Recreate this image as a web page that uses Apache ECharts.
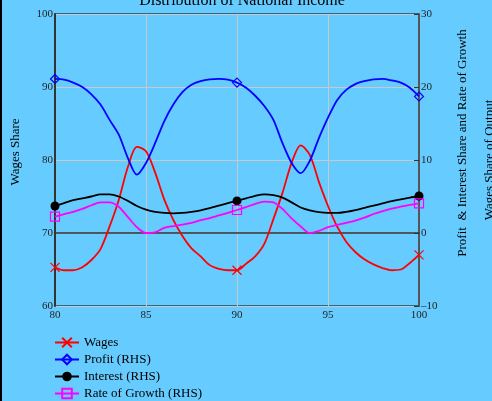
<!DOCTYPE html>
<html>
<head>
<meta charset="utf-8">
<script src="https://cdn.jsdelivr.net/npm/echarts@6/dist/echarts.min.js"></script>
<style>
  html, body { margin: 0; padding: 0; background: #000; }
  #chart { position: absolute; left: 2px; top: 0; width: 490px; height: 401px; background: #66ccff; }
</style>
</head>
<body>
<div id="chart"></div>
<script>
// x positions (half-year steps)
const years = [80, 80.5, 81, 81.5, 82, 82.5, 83, 83.5, 84, 84.5, 85, 85.5, 86, 86.5, 87, 87.5, 88, 88.5, 89, 89.5,
  90, 90.5, 91, 91.5, 92, 92.5, 93, 93.5, 94, 94.5, 95, 95.5, 96, 96.5, 97, 97.5, 98, 98.5, 99, 99.5, 100];

const wages = [65.3, 64.9, 64.9, 65.3, 66.3, 67.8, 70.9, 74.5, 79.0, 81.8, 81.2, 78.3, 74.6, 71.8, 69.6, 67.9, 66.8, 65.6, 65.1, 64.9,
  64.9, 65.8, 66.8, 68.5, 71.9, 75.5, 79.6, 82.0, 80.7, 77.0, 73.7, 70.9, 68.8, 67.4, 66.4, 65.7, 65.2, 64.9, 65.0, 65.9, 67.0];

const profit = [21.1, 21.0, 20.6, 20.0, 19.0, 17.6, 15.5, 13.5, 10.3, 8.0, 9.6, 12.3, 15.3, 17.6, 19.3, 20.3, 20.8, 21.05, 21.1, 21.0,
  20.6, 19.9, 18.8, 17.4, 15.5, 12.3, 9.6, 8.2, 9.9, 13.0, 15.8, 18.2, 19.6, 20.4, 20.8, 21.05, 21.1, 20.9, 20.6, 19.9, 18.7];

const interest = [3.7, 4.1, 4.5, 4.75, 5.0, 5.3, 5.3, 5.0, 4.4, 3.7, 3.2, 2.9, 2.75, 2.7, 2.75, 2.9, 3.1, 3.4, 3.75, 4.1,
  4.4, 4.75, 5.1, 5.3, 5.2, 4.85, 4.2, 3.5, 3.1, 2.85, 2.75, 2.75, 2.9, 3.15, 3.45, 3.75, 4.05, 4.35, 4.6, 4.85, 5.07];

const growth = [2.24, 2.6, 2.9, 3.3, 3.8, 4.2, 4.2, 3.6, 2.2, 0.8, 0.0, 0.1, 0.7, 0.95, 1.15, 1.4, 1.75, 2.05, 2.4, 2.75,
  3.15, 3.55, 4.0, 4.3, 4.2, 3.3, 2.0, 0.9, 0.0, 0.3, 0.8, 1.1, 1.4, 1.7, 2.1, 2.6, 3.0, 3.35, 3.6, 3.85, 4.07];

// points that carry a marker
const markerYears = [80, 90, 100];

const font = 'Liberation Serif';
const pairs = arr => years.map((x, i) => [x, arr[i]]);
const markSize = size => (val) => (markerYears.indexOf(val[0]) >= 0 ? size : 0);

function lineSeries(name, data, color, yAxisIndex, symbol, size, filled) {
  return {
    name: name,
    type: 'line',
    yAxisIndex: yAxisIndex,
    data: pairs(data),
    smooth: 0.3,
    symbol: symbol,
    symbolSize: markSize(size),
    showAllSymbol: true,
    lineStyle: { color: color, width: 1.8 },
    itemStyle: filled
      ? { color: color }
      : { color: 'rgba(0,0,0,0)', borderColor: color, borderWidth: 1.2 },
    emphasis: { disabled: true },
    z: 3
  };
}

const myChart = echarts.init(document.getElementById('chart'));
const option = {
  animation: false,
  title: {
    text: 'Distribution of National Income',
    left: 235,
    top: -12,
    textAlign: 'center',
    textStyle: { fontFamily: font, fontSize: 16, fontWeight: 'normal', color: '#000' }
  },
  grid: {
    left: 53, right: 73, top: 14, bottom: 95,
    outerBoundsMode: 'none',
    containLabel: false,
    show: true, borderColor: '#000', borderWidth: 1, backgroundColor: 'transparent'
  },
  legend: {
    orient: 'vertical',
    left: 52,
    top: 336,
    height: 120,
    padding: 0,
    itemWidth: 24,
    itemHeight: 12,
    itemGap: 4,
    textStyle: { fontFamily: font, fontSize: 13, lineHeight: 13, color: '#000' },
    data: ['Wages', 'Profit (RHS)', 'Interest (RHS)', 'Rate of Growth (RHS)']
  },
  xAxis: {
    type: 'value',
    min: 80, max: 100, interval: 5,
    axisLine: { lineStyle: { color: '#333', width: 1.5 } },
    axisTick: { show: false },
    axisLabel: { fontFamily: font, fontSize: 11, color: '#222', margin: 4 },
    splitLine: { lineStyle: { color: '#c8c8c8', width: 1 } }
  },
  yAxis: [
    {
      type: 'value',
      min: 60, max: 100, interval: 10,
      name: 'Wages Share',
      nameLocation: 'middle',
      nameRotate: 90,
      nameGap: 33,
      nameTextStyle: { fontFamily: font, fontSize: 13, color: '#000', padding: [0, 0, 0, 16] },
      axisLine: { show: true, lineStyle: { color: '#333', width: 2 } },
      axisTick: { show: false },
      axisLabel: { fontFamily: font, fontSize: 11, color: '#222', margin: 2 },
      splitLine: { lineStyle: { color: '#c8c8c8', width: 1 } }
    },
    {
      type: 'value',
      position: 'right',
      min: -10, max: 30, interval: 10,
      name: 'Wages Share of Output',
      nameLocation: 'middle',
      nameRotate: 90,
      nameGap: 64,
      nameTextStyle: { fontFamily: font, fontSize: 13, color: '#000' },
      axisLine: { show: true, lineStyle: { color: '#555', width: 2 } },
      axisTick: { show: true, inside: true, length: 5, lineStyle: { color: '#333' } },
      axisLabel: {
        fontFamily: font, fontSize: 11, color: '#222', margin: 2,
        formatter: v => (v < 0 ? '\u2013' + Math.abs(v) : String(v))
      },
      splitLine: { show: false }
    }
  ],
  graphic: [
    {
      type: 'text',
      x: 461,
      y: 143,
      rotation: Math.PI / 2,
      style: {
        text: 'Profit  & Interest Share and Rate of Growth',
        fontFamily: font, fontSize: 13, fill: '#000',
        align: 'center', verticalAlign: 'middle'
      }
    }
  ],
  series: [
    lineSeries('Wages', wages, '#ff0000', 0, 'path://M0,0L10,10M10,0L0,10', 9, false),
    lineSeries('Profit (RHS)', profit, '#0000ff', 1, 'diamond', 9, false),
    lineSeries('Interest (RHS)', interest, '#000000', 1, 'circle', 9, true),
    lineSeries('Rate of Growth (RHS)', growth, '#ff00ff', 1, 'rect', 9, false)
  ]
};
myChart.setOption(option);
</script>
</body>
</html>
